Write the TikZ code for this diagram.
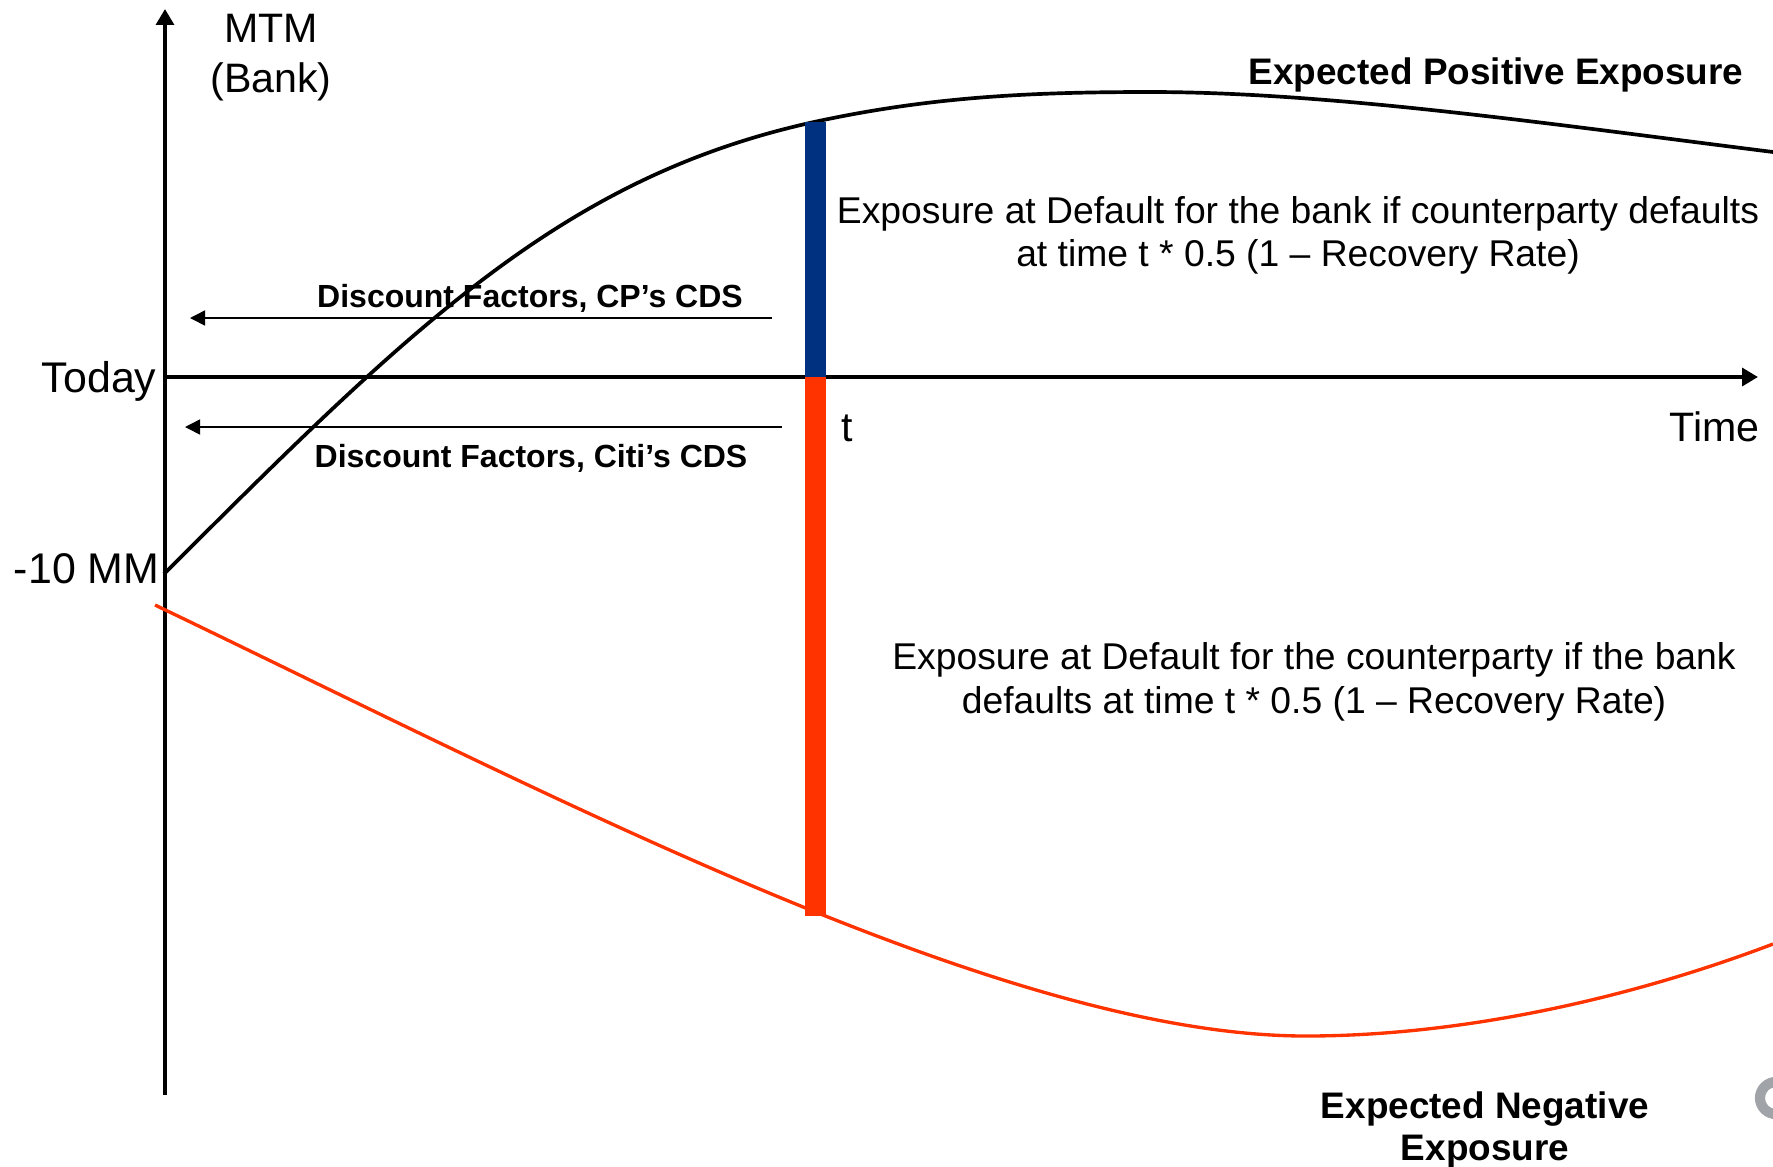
\documentclass[tikz,border=0pt]{standalone}
\usepackage{fontspec}
\setmainfont{Liberation Sans}
\usetikzlibrary{arrows.meta}
\definecolor{barblue}{RGB}{0,48,128}
\definecolor{barred}{RGB}{255,51,0}
\definecolor{logogray}{RGB}{160,163,168}

\begin{document}
\begin{tikzpicture}[x=0.01cm,y=-0.01cm,
  axislbl/.style={font=\fontsize{11.7}{14}\selectfont,inner sep=0pt},
  ticklbl/.style={font=\fontsize{12.2}{14}\selectfont,inner sep=0pt},
  notelbl/.style={font=\fontsize{10.6}{13}\selectfont,inner sep=0pt},
  boldlbl/.style={font=\fontsize{10.5}{13}\selectfont\bfseries,inner sep=0pt},
  dflbl/.style={font=\fontsize{9.1}{11}\selectfont\bfseries,inner sep=0pt},
  dfarrow/.style={-{Triangle[length=4.3pt,width=4.3pt]},line width=0.45pt}]

\useasboundingbox (0,0) rectangle (1773,1166);

% axes
\coordinate (ybot) at (165,1095);
\coordinate (ytop) at (165,9);
\coordinate (today) at (165,377);
\coordinate (xend) at (1758,377);
\draw [line width=1.2pt,-{Triangle[length=4.5pt,width=5pt]}] (ybot) -- (ytop);
\draw [line width=1.2pt,-{Triangle[length=4.5pt,width=5pt]}] (today) -- (xend);

% expected positive / negative exposure
\draw [line width=1.05pt] (164,574) .. controls (414,324) and (564,177) .. (814,122)
   .. controls (930,96.8) and (1030,92) .. (1150,92)
   .. controls (1330,92) and (1550,124) .. (1773,152);
\draw [barred, line width=0.95pt] (155,605) .. controls (555,797) and (1006,1036) .. (1306,1036)
   .. controls (1456,1036) and (1623,1001) .. (1773,944);

% exposure at default at time t
\fill [barblue] (805,122) rectangle (826,377);
\fill [barred] (805,377) rectangle (826,916);

% discounting arrows
\coordinate (cpfrom) at (772,318);
\coordinate (cpto) at (190,318);
\coordinate (citifrom) at (782,427);
\coordinate (citito) at (185,427);
\draw [dfarrow] (cpfrom) -- (cpto);
\draw [dfarrow] (citifrom) -- (citito);

% logo remnant
\draw [logogray, line width=2.9pt] (1776,1098) circle [radius=16];

% labels
\node (mtm) at (271,42)[axislbl, anchor=base]{MTM};
\node (bank) at (271,92)[axislbl, anchor=base]{(Bank)};
\node (todaylbl) at (157,392)[ticklbl, anchor=base east]{Today};
\node (minus) at (160,583)[ticklbl, anchor=base east]{-10 MM};
\node (tlbl) at (841,441)[axislbl, anchor=base west]{t};
\node (time) at (1760,441)[axislbl, anchor=base east]{Time};

\node (epe) at (1496,84)[boldlbl, anchor=base]{Expected Positive Exposure};
\node (ene) at (1485,1118)[boldlbl, anchor=base]{Expected Negative};
\node (ene2) at (1485,1160)[boldlbl, anchor=base]{Exposure};

\node (cpdf) at (530,307)[dflbl, anchor=base]{Discount Factors, CP’s CDS};
\node (citidf) at (531,467)[dflbl, anchor=base]{Discount Factors, Citi’s CDS};

\node (bankead) at (1298,223)[notelbl, anchor=base]{Exposure at Default for the bank if counterparty defaults};
\node (bankead2) at (1298,266)[notelbl, anchor=base]{at time t * 0.5 (1 – Recovery Rate)};
\node (cpead) at (1314,669)[notelbl, anchor=base]{Exposure at Default for the counterparty if the bank};
\node (cpead2) at (1314,713)[notelbl, anchor=base]{defaults at time t * 0.5 (1 – Recovery Rate)};

\end{tikzpicture}
\end{document}
